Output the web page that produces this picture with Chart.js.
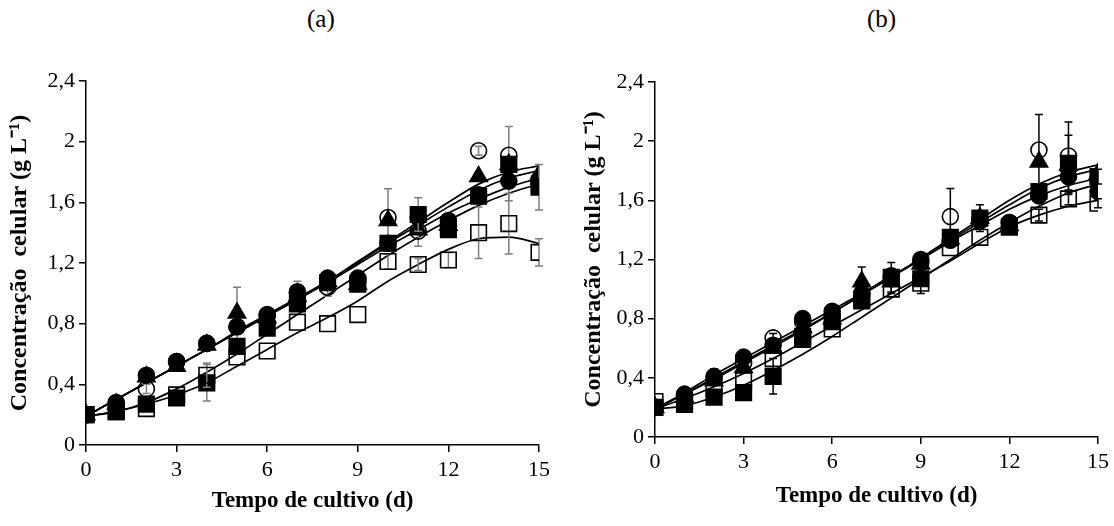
<!DOCTYPE html>
<html>
<head>
<meta charset="utf-8">
<script src="https://cdn.jsdelivr.net/npm/chart.js@4.4.1/dist/chart.umd.min.js"></script>
<style>
  body { margin: 0; background: #fff; width: 1114px; height: 526px; position: relative; overflow: hidden; }
  .panel { position: absolute; top: 0; width: 557px; height: 526px; }
  .tag { position: absolute; top: 5px; font: 25px 'Liberation Serif', 'Times New Roman', serif; color: #000; }
</style>
</head>
<body>
<div class="tag" style="left:307px">(a)</div>
<div class="tag" style="left:867px">(b)</div>
<div class="panel" style="left:0"><canvas id="chartA" width="557" height="526"></canvas></div>
<div class="panel" style="left:557px"><canvas id="chartB" width="557" height="526"></canvas></div>
<script>
const days = [0, 1, 2, 3, 4, 5, 6, 7, 8, 9, 10, 11, 12, 13, 14, 15]

// painel (a) - medias
const oA = [0.20, 0.27, 0.37, 0.55, 0.67, 0.78, 0.85, 1.00, 1.04, 1.08, 1.50, 1.41, 1.44, 1.94, 1.91, 1.75]
const tA = [0.20, 0.27, 0.45, 0.52, 0.66, 0.87, 0.84, 0.98, 1.08, 1.06, 1.48, 1.42, 1.45, 1.77, 1.85, 1.78]
const cA = [0.20, 0.28, 0.46, 0.55, 0.67, 0.78, 0.86, 1.01, 1.10, 1.10, 1.33, 1.50, 1.48, 1.65, 1.74, 1.72]
const sA = [0.20, 0.22, 0.27, 0.31, 0.41, 0.65, 0.77, 0.93, 1.07, 1.06, 1.33, 1.52, 1.42, 1.64, 1.85, 1.70]
const qA = [0.20, 0.22, 0.24, 0.33, 0.46, 0.58, 0.62, 0.81, 0.80, 0.86, 1.21, 1.19, 1.22, 1.40, 1.46, 1.27]
// painel (a) - desvios
const eoA = [0, 0, 0.03, 0, 0, 0, 0, 0.08, 0.06, 0, 0.19, 0.10, 0, 0.03, 0.19, 0]
const etA = [0, 0, 0, 0, 0, 0.17, 0, 0, 0, 0, 0, 0, 0, 0, 0, 0]
const ecA = [0, 0, 0, 0, 0, 0, 0, 0, 0, 0.05, 0, 0, 0, 0, 0.13, 0]
const esA = [0, 0, 0, 0, 0.12, 0, 0, 0, 0, 0, 0, 0.11, 0, 0, 0, 0.15]
const eqA = [0, 0, 0, 0, 0.08, 0, 0, 0, 0, 0, 0.05, 0.04, 0.05, 0.17, 0.20, 0.09]
// painel (a) - curvas ajustadas
const foA = [0.19, 0.30, 0.41, 0.52, 0.63, 0.75, 0.86, 0.97, 1.08, 1.21, 1.34, 1.47, 1.60, 1.72, 1.80, 1.84]
const ftA = [0.19, 0.30, 0.41, 0.52, 0.63, 0.74, 0.85, 0.96, 1.08, 1.20, 1.33, 1.45, 1.57, 1.68, 1.76, 1.81]
const fcA = [0.19, 0.30, 0.41, 0.52, 0.63, 0.74, 0.85, 0.96, 1.07, 1.19, 1.31, 1.42, 1.53, 1.62, 1.70, 1.76]
const fsA = [0.19, 0.22, 0.28, 0.37, 0.48, 0.60, 0.73, 0.86, 0.99, 1.12, 1.25, 1.37, 1.48, 1.58, 1.66, 1.72]
const fqA = [0.19, 0.22, 0.27, 0.33, 0.41, 0.52, 0.63, 0.74, 0.84, 0.95, 1.08, 1.19, 1.29, 1.36, 1.37, 1.33]

// painel (b) - medias
const oB = [0.20, 0.28, 0.41, 0.50, 0.67, 0.78, 0.82, 0.97, 1.07, 1.18, 1.49, 1.47, 1.45, 1.94, 1.90, 1.75]
const tB = [0.20, 0.27, 0.38, 0.47, 0.60, 0.74, 0.80, 1.05, 1.05, 1.17, 1.34, 1.48, 1.43, 1.86, 1.84, 1.78]
const cB = [0.20, 0.29, 0.40, 0.54, 0.62, 0.80, 0.85, 0.96, 1.09, 1.20, 1.33, 1.46, 1.45, 1.63, 1.76, 1.66]
const sB = [0.20, 0.22, 0.27, 0.30, 0.41, 0.66, 0.78, 0.93, 1.08, 1.07, 1.35, 1.48, 1.42, 1.66, 1.85, 1.76]
const qB = [0.24, 0.24, 0.33, 0.38, 0.53, 0.68, 0.73, 0.92, 1.00, 1.04, 1.28, 1.35, 1.42, 1.50, 1.61, 1.58]
// painel (b) - desvios
const eoB = [0, 0, 0.05, 0, 0.03, 0, 0, 0, 0, 0, 0.19, 0, 0, 0.24, 0.23, 0]
const etB = [0, 0, 0, 0, 0, 0, 0, 0.10, 0, 0, 0, 0, 0, 0, 0.20, 0]
const ecB = [0, 0, 0, 0, 0, 0, 0, 0, 0, 0, 0, 0, 0, 0, 0, 0]
const esB = [0, 0, 0, 0, 0.12, 0, 0, 0, 0.10, 0.10, 0, 0.09, 0, 0, 0, 0.05]
const eqB = [0, 0, 0, 0, 0, 0, 0, 0, 0.03, 0, 0, 0, 0, 0.04, 0.04, 0.03]
// painel (b) - curvas ajustadas
const foB = [0.19, 0.29, 0.39, 0.50, 0.61, 0.72, 0.84, 0.96, 1.08, 1.21, 1.34, 1.47, 1.60, 1.71, 1.79, 1.84]
const ftB = [0.19, 0.29, 0.40, 0.51, 0.62, 0.73, 0.84, 0.96, 1.08, 1.20, 1.33, 1.45, 1.57, 1.68, 1.76, 1.81]
const fcB = [0.19, 0.30, 0.42, 0.53, 0.64, 0.75, 0.86, 0.97, 1.09, 1.20, 1.32, 1.43, 1.54, 1.63, 1.70, 1.75]
const fsB = [0.19, 0.21, 0.27, 0.35, 0.45, 0.56, 0.68, 0.81, 0.94, 1.07, 1.20, 1.33, 1.45, 1.56, 1.65, 1.71]
const fqB = [0.19, 0.26, 0.34, 0.43, 0.53, 0.64, 0.75, 0.86, 0.97, 1.08, 1.19, 1.31, 1.42, 1.50, 1.56, 1.60]

const serif = "'Liberation Serif', 'Times New Roman', serif"
Chart.defaults.font.family = serif
Chart.defaults.color = "#000"

// marcadores: circulo aberto, triangulo, circulo, quadrado, quadrado aberto
const markers = [
    {style: "circle", radius: 8, fill: "rgba(0,0,0,0)"},
    {style: "triangle", radius: 10, fill: "#000"},
    {style: "circle", radius: 8, fill: "#000"},
    {style: "rect", radius: 11, fill: "#000"},
    {style: "rect", radius: 11, fill: "rgba(0,0,0,0)"}
]

const pts = arr => arr.map((v, i) => ({x: days[i], y: v}))

const errorBars = {
    id: "errorBars",
    beforeDatasetDraw(chart, args){
        const ds = chart.data.datasets[args.index]
        if(!ds.err) return
        const y = chart.scales.y, ctx = chart.ctx
        ctx.save()
        ctx.strokeStyle = ds.errColor
        ctx.lineWidth = 1.5
        ds.data.forEach((p, i) => {
            const e = ds.err[i]
            if(!e) return
            const px = args.meta.data[i].x
            const top = y.getPixelForValue(p.y + e), bot = y.getPixelForValue(p.y - e)
            ctx.beginPath()
            ctx.moveTo(px, top); ctx.lineTo(px, bot)
            ctx.moveTo(px - 4, top); ctx.lineTo(px + 4, top)
            ctx.moveTo(px - 4, bot); ctx.lineTo(px + 4, bot)
            ctx.stroke()
        })
        ctx.restore()
    }
}

function makeChart(id, means, errs, fits, errColor, pad, yW, xH){
    const datasets = []
    means.forEach((m, k) => {
        datasets.push({
            type: "line",
            data: pts(m),
            err: errs[k],
            errColor: errColor,
            showLine: false,
            pointStyle: markers[k].style,
            pointRadius: markers[k].radius,
            pointBackgroundColor: markers[k].fill,
            pointBorderColor: "#000",
            pointBorderWidth: 1.6,
            order: 10 - k
        })
    })
    fits.forEach(f => {
        datasets.push({
            type: "line",
            data: pts(f),
            borderColor: "#000",
            borderWidth: 1.7,
            pointRadius: 0,
            cubicInterpolationMode: "monotone",
            order: 20
        })
    })
    return new Chart(document.getElementById(id), {
        type: "line",
        data: {datasets},
        plugins: [errorBars],
        options: {
            responsive: false,
            animation: false,
            layout: {padding: pad},
            plugins: {legend: {display: false}, tooltip: {enabled: false}},
            scales: {
                x: {
                    type: "linear",
                    min: 0, max: 15,
                    afterFit: s => { s.height = xH },
                    ticks: {stepSize: 3, font: {size: 22}, padding: 5},
                    grid: {drawOnChartArea: false, color: "#000", tickLength: 7, lineWidth: 1.5},
                    border: {color: "#000", width: 1.5},
                    title: {display: true, text: "Tempo de cultivo (d)", font: {size: 23, weight: "bold"}, padding: 0}
                },
                y: {
                    min: 0, max: 2.4,
                    afterFit: s => { s.width = yW },
                    ticks: {
                        stepSize: 0.4, font: {size: 22}, padding: 4,
                        callback: v => (Math.round(v * 10) / 10).toString().replace(".", ",")
                    },
                    grid: {drawOnChartArea: false, color: "#000", tickLength: 7, lineWidth: 1.5},
                    border: {color: "#000", width: 1.5},
                    title: {display: true, text: "Concentração  celular (g L⁻¹)", font: {size: 24, weight: "bold"}, padding: 0}
                }
            }
        }
    })
}

makeChart("chartA", [oA, tA, cA, sA, qA], [eoA, etA, ecA, esA, eqA], [foA, ftA, fcA, fsA, fqA], "#7f7f7f",
    {left: 5, right: 18, top: 81, bottom: 11}, 81, 70)
makeChart("chartB", [oB, tB, cB, sB, qB], [eoB, etB, ecB, esB, eqB], [foB, ftB, fcB, fsB, fqB], "#000",
    {left: 22, right: 0, top: 82, bottom: 16}, 76, 73)
</script>
</body>
</html>
